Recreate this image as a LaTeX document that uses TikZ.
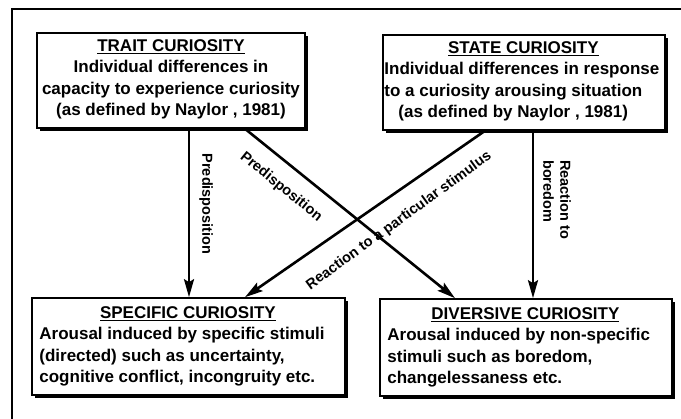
\documentclass[tikz,border=0pt]{standalone}
\usepackage{fontspec}
\setmainfont{Liberation Sans}
\usetikzlibrary{arrows.meta,shadows}
\begin{document}
\begin{tikzpicture}[x=1pt,y=-1pt,
  box/.style={draw, line width=1.6pt, fill=white, inner sep=0pt,
    drop shadow={shadow xshift=3pt, shadow yshift=-3pt, opacity=1, fill=black}},
  boxtext/.style={inner sep=0pt, font=\bfseries\fontsize{17}{21.5}\selectfont},
  conn/.style={line width=2.6pt, -{Stealth[length=18pt,width=10pt,inset=3pt]}},
  lab/.style={inner sep=0pt, font=\bfseries\fontsize{14.5}{17}\selectfont}]
\useasboundingbox (0,0) rectangle (681,419);
\fill[white] (0,0) rectangle (681,419);
% outer frame
\draw[line width=1.6pt] (681,9) -- (12,9) -- (12,419);
% boxes
\node[box, minimum width=268pt, minimum height=95pt] (trait) at (171,80.5) {};
\node[box, minimum width=282pt, minimum height=95pt] (state) at (524,82.5) {};
\node[box, minimum width=313pt, minimum height=97pt] (spec) at (188.5,346.5) {};
\node[box, minimum width=292pt, minimum height=97pt] (div) at (526,347.5) {};
% box texts
\node[boxtext, anchor=north, align=center] (traitt) at ([yshift=-7pt]trait.north)
  {\underline{TRAIT CURIOSITY}\\Individual differences in\\capacity to experience curiosity\\(as defined by Naylor , 1981)};
\node[boxtext, anchor=north west, align=left] (statet) at ([xshift=2pt,yshift=-7pt]state.north west)
  {\makebox[278pt][c]{\underline{STATE CURIOSITY}}\\Individual differences in response\\to a curiosity arousing situation\\\hspace*{14pt}(as defined by Naylor , 1981)};
\node[boxtext, anchor=north west, align=left] (spect) at ([yshift=-9pt]spec.north west)
  {\makebox[313pt][c]{\underline{SPECIFIC CURIOSITY}}\\\hspace*{8pt}Arousal induced by specific stimuli\\\hspace*{8pt}(directed) such as uncertainty,\\\hspace*{8pt}cognitive conflict, incongruity etc.};
\node[boxtext, anchor=north west, align=left] (divt) at ([yshift=-9pt]div.north west)
  {\makebox[292pt][c]{\underline{DIVERSIVE CURIOSITY}}\\\hspace*{8pt}Arousal induced by non-specific\\\hspace*{8pt}stimuli such as boredom,\\\hspace*{8pt}changelessaness etc.};
% connectors
\draw[conn] ([xshift=18pt]trait.south) -- ([xshift=0.5pt]spec.north);
\draw[conn] ([xshift=74pt]trait.south) -- ([xshift=-71pt]div.north);
\draw[conn] ([xshift=-39pt]state.south) -- ([xshift=56.5pt]spec.north);
\draw[conn] ([xshift=9pt]state.south) -- ([xshift=7pt]div.north);
% labels
\node[lab, rotate=-90] (l1) at (206,204) {Predisposition};
\node[lab, rotate=-39] (l2) at (281,187) {Predisposition};
\node[lab, rotate=36] (l3) at (399,221) {Reaction to a particular stimulus};
\node[lab, rotate=-90, anchor=west, align=left] (l4) at (557,160) {Reaction to\\boredom};
\end{tikzpicture}
\end{document}
